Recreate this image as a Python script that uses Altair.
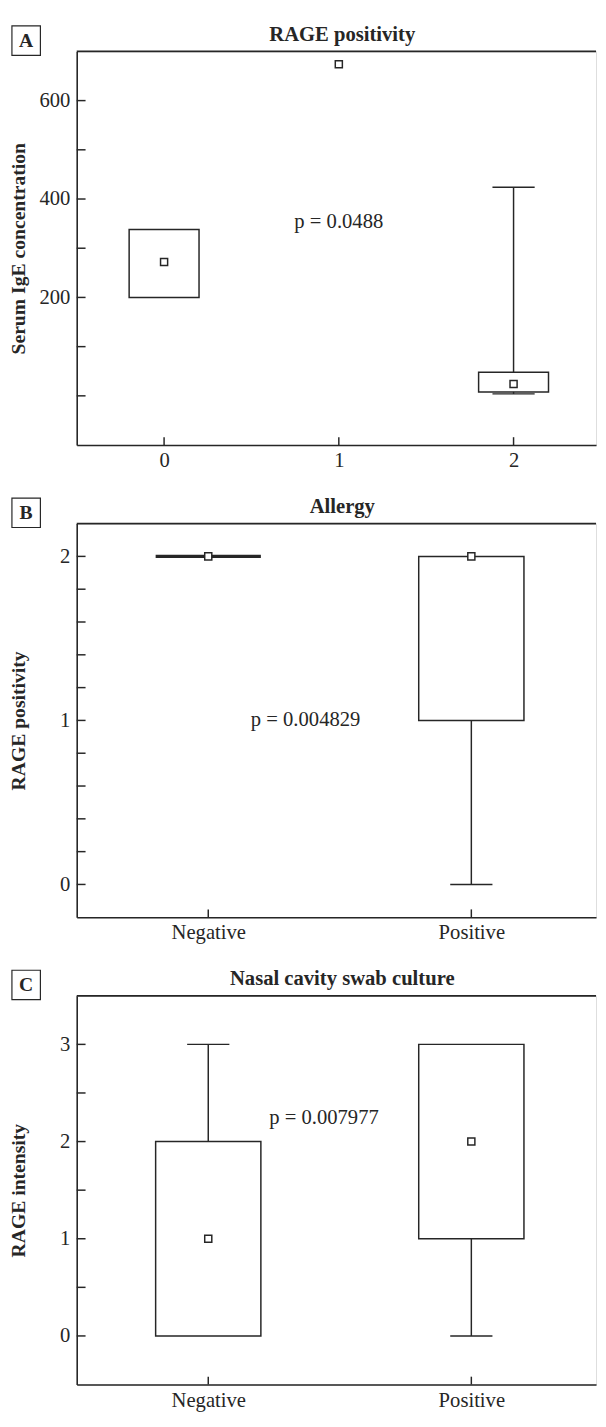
import json
import altair as alt
import pandas as pd

FONT = "Liberation Serif"
INK = "#262626"

# ---------------- data ----------------
# Panel A: Serum IgE concentration by RAGE positivity
a_groups = [0, 1, 2]
a_xlabels = ["0", "1", "2"]
a_q1 = [200, None, 8]
a_q3 = [338, None, 48]
a_low = [None, None, 4]
a_high = [None, None, 424]
a_marker = [272, 674, 24]
a_ylabels = [200, 400, 600]
a_yticks = [0, 100, 200, 300, 400, 500, 600]
a_ptext = ["p = 0.0488"]
a_px = [1.0]
a_py = [354]

# Panel B: RAGE positivity by Allergy
b_groups = [0, 1]
b_xlabels = ["Negative", "Positive"]
b_q1 = [2, 1]
b_q3 = [2, 2]
b_low = [None, 0]
b_high = [None, None]
b_marker = [2, 2]
b_ylabels = [0, 1, 2]
b_yticks = [0, 0.2, 0.4, 0.6, 0.8, 1.0, 1.2, 1.4, 1.6, 1.8, 2.0]
b_ptext = ["p = 0.004829"]
b_px = [0.37]
b_py = [1.0]

# Panel C: RAGE intensity by Nasal cavity swab culture
c_groups = [0, 1]
c_xlabels = ["Negative", "Positive"]
c_q1 = [0, 1]
c_q3 = [2, 3]
c_low = [None, 0]
c_high = [3, None]
c_marker = [1, 2]
c_ylabels = [0, 1, 2, 3]
c_yticks = [0, 0.5, 1.0, 1.5, 2.0, 2.5, 3.0]
c_ptext = ["p = 0.007977"]
c_px = [0.44]
c_py = [2.24]

W = 529


def panel(letter, title, ytitle, groups, xlabels, q1, q3, low, high, marker,
          ylabels, yticks, ptext, px, py, xdomain, ydomain, H):
    df = pd.DataFrame({"g": groups, "q1": q1, "q3": q3, "low": low,
                       "high": high, "m": marker})
    xs = alt.Scale(domain=xdomain, nice=False, zero=False)
    ys = alt.Scale(domain=ydomain, nice=False, zero=False)
    lab_expr = json.dumps(xlabels) + "[round(datum.value)]"
    xa = alt.Axis(values=groups, labelExpr=lab_expr, ticks=False, tickSize=0,
                  grid=False, domainColor=INK, domainWidth=1.6,
                  labelFont=FONT, labelFontSize=21, labelColor=INK,
                  labelPadding=5, title=None)
    ya = alt.Axis(values=ylabels, ticks=False, tickSize=0, grid=False,
                  domainColor=INK, domainWidth=1.6, labelFont=FONT,
                  labelFontSize=21, labelColor=INK, labelPadding=7,
                  title=ytitle, titleFont=FONT, titleFontSize=20,
                  titleFontWeight="bold", titleColor=INK, titleX=-59,
                  titleY=H / 2, titleAngle=270, titleAlign="center",
                  titleBaseline="middle")

    def X(f):
        return alt.X(f, scale=xs, axis=xa, title=None)

    def Y(f):
        return alt.Y(f, scale=ys, axis=ya, title=ytitle)

    base = alt.Chart(df)

    boxes = base.transform_filter("isValid(datum.q1)").transform_calculate(
        xl="datum.g - 0.2", xr="datum.g + 0.2"
    ).mark_rect(fill="white", stroke=INK).encode(
        x=X("xl:Q"), x2="xr:Q", y=Y("q1:Q"), y2="q3:Q",
        strokeWidth=alt.condition("datum.q1 == datum.q3", alt.value(3.2), alt.value(1.5)),
    )
    low_w = base.transform_filter("isValid(datum.low)").mark_rule(
        color=INK, strokeWidth=1.5).encode(x=X("g:Q"), y=Y("low:Q"), y2="q1:Q")
    low_c = base.transform_filter("isValid(datum.low)").mark_tick(
        orient="horizontal", size=43, thickness=1.5, color=INK, opacity=1).encode(
        x=X("g:Q"), y=Y("low:Q"))
    high_w = base.transform_filter("isValid(datum.high)").mark_rule(
        color=INK, strokeWidth=1.5).encode(x=X("g:Q"), y=Y("q3:Q"), y2="high:Q")
    high_c = base.transform_filter("isValid(datum.high)").mark_tick(
        orient="horizontal", size=43, thickness=1.5, color=INK, opacity=1).encode(
        x=X("g:Q"), y=Y("high:Q"))
    marks = base.mark_square(size=52, fill="white", stroke=INK, strokeWidth=1.5,
                             opacity=1).encode(x=X("g:Q"), y=Y("m:Q"))

    pdf = pd.DataFrame({"t": ptext, "x": px, "y": py})
    ptxt = alt.Chart(pdf).mark_text(font=FONT, fontSize=21, color=INK).encode(
        x=X("x:Q"), y=Y("y:Q"), text="t:N")

    ytdf = pd.DataFrame({"v": yticks})
    yt = alt.Chart(ytdf).mark_rule(color=INK, strokeWidth=1.5).encode(
        y=Y("v:Q"), x=alt.value(0), x2=alt.value(9))
    xtdf = pd.DataFrame({"v": groups})
    xt = alt.Chart(xtdf).mark_rule(color=INK, strokeWidth=1.5).encode(
        x=X("v:Q"), y=alt.value(H), y2=alt.value(H - 8))

    one = pd.DataFrame({"letter": [letter], "title": [title]})
    top = alt.Chart(one).mark_rule(color=INK, strokeWidth=1.8).encode(
        x=alt.value(0), x2=alt.value(W), y=alt.value(0))
    lbox = alt.Chart(one).mark_rect(fill="white", stroke=INK, strokeWidth=1.2).encode(
        x=alt.value(-66), x2=alt.value(-37), y=alt.value(-26), y2=alt.value(4))
    ltxt = alt.Chart(one).mark_text(font=FONT, fontSize=20, fontWeight="bold",
                                    color=INK, baseline="middle").encode(
        x=alt.value(-51.5), y=alt.value(-10.5), text="letter:N")
    ttxt = alt.Chart(one).mark_text(font=FONT, fontSize=21, fontWeight="bold",
                                    color=INK, baseline="alphabetic",
                                    align="center").encode(
        x=alt.value(W / 2 + 6), y=alt.value(-11), text="title:N")

    return alt.layer(boxes, low_w, low_c, high_w, high_c, marks, ptxt,
                     yt, xt, top, lbox, ltxt, ttxt).properties(width=W, height=H)


pA = panel("A", "RAGE positivity", "Serum IgE concentration", a_groups, a_xlabels,
           a_q1, a_q3, a_low, a_high, a_marker, a_ylabels, a_yticks,
           a_ptext, a_px, a_py, [-0.5, 2.472], [-100, 700], 401)
pB = panel("B", "Allergy", "RAGE positivity", b_groups, b_xlabels,
           b_q1, b_q3, b_low, b_high, b_marker, b_ylabels, b_yticks,
           b_ptext, b_px, b_py, [-0.5, 1.474], [-0.2, 2.2], 401)
pC = panel("C", "Nasal cavity swab culture", "RAGE intensity", c_groups, c_xlabels,
           c_q1, c_q3, c_low, c_high, c_marker, c_ylabels, c_yticks,
           c_ptext, c_px, c_py, [-0.5, 1.474], [-0.5, 3.5], 396)

chart = alt.vconcat(pA, pB, pC, spacing=80, bounds="flush").properties(
    padding={"left": 0, "top": 2, "right": 0, "bottom": 0}
).configure_view(stroke=None).configure(background="white")

chart.save("out.html", embed_options={"renderer": "svg", "actions": False})
